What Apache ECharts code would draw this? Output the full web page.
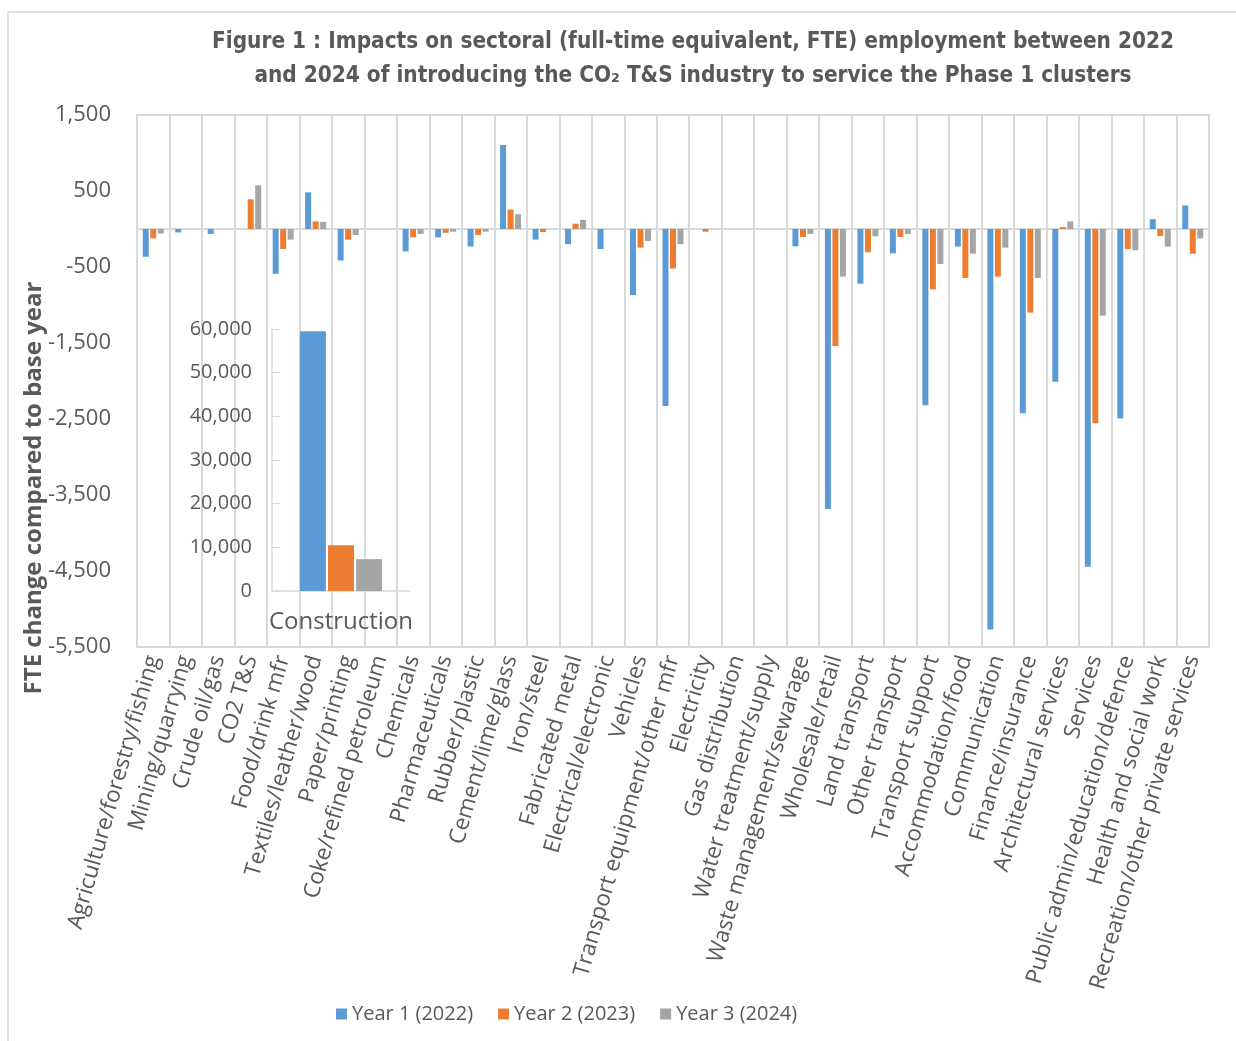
<!DOCTYPE html>
<html>
<head>
<meta charset="utf-8">
<script src="https://cdn.jsdelivr.net/npm/echarts@6/dist/echarts.min.js"></script>
<style>
html,body{margin:0;padding:0;background:#fff;}
#chart{width:1236px;height:1041px;}
</style>
</head>
<body>
<div id="chart"></div>
<script>
const categories = ['Agriculture/forestry/fishing','Mining/quarrying','Crude oil/gas','CO2 T&S','Food/drink mfr','Textiles/leather/wood','Paper/printing','Coke/refined petroleum','Chemicals','Pharmaceuticals','Rubber/plastic','Cement/lime/glass','Iron/steel','Fabricated metal','Electrical/electronic','Vehicles','Transport equipment/other mfr','Electricity','Gas distribution','Water treatment/supply','Waste management/sewarage','Wholesale/retail','Land transport','Other transport','Transport support','Accommodation/food','Communication','Finance/insurance','Architectural services','Services','Public admin/education/defence','Health and social work','Recreation/other private services'];
const year1 = [-365,-45,-65,0,-590,482,-415,0,-295,-110,-230,1105,-140,-200,-263,-870,-2330,0,0,0,-228,-3685,-720,-320,-2320,-232,-5270,-2425,-2010,-4445,-2495,130,310];
const year2 = [-123,0,0,390,-263,100,-140,0,-110,-50,-80,255,-40,70,0,-245,-520,-35,0,0,-105,-1540,-307,-105,-795,-645,-627,-1100,26,-2557,-263,-92,-325];
const year3 = [-60,0,0,575,-140,95,-80,0,-65,-35,-35,195,0,120,0,-158,-200,0,0,0,-65,-627,-96,-65,-460,-325,-245,-645,100,-1140,-280,-232,-123];
const seriesNames = ['Year 1 (2022)','Year 2 (2023)','Year 3 (2024)'];
const insetCategories = ['Construction'];
const constructionValues = [59500, 10500, 7300];
const mainTickLabels = [-5500,-4500,-3500,-2500,-1500,-500,500,1500];

const colors = ['#5B9BD5','#ED7D31','#A5A5A5'];
const txt = '#595959';
const gridLine = '#d9d9d9';
const font = 'Open Sans';

const chart = echarts.init(document.getElementById('chart'));
const mainData = [year1, year2, year3];

const series = [];
mainData.forEach((d, i) => {
  const s = {
    name: seriesNames[i], type: 'bar', xAxisIndex: 0, yAxisIndex: 0,
    data: d, barWidth: 6, barGap: '25%',
    itemStyle: { color: colors[i] }
  };
  if (i === 0) {
    s.markLine = {
      silent: true, symbol: ['none','none'], label: { show: false },
      lineStyle: { color: gridLine, width: 2, type: 'solid' },
      data: [{ yAxis: 0 }], z: 1
    };
  }
  series.push(s);
});
constructionValues.forEach((v, i) => {
  series.push({
    name: seriesNames[i], type: 'bar', xAxisIndex: 1, yAxisIndex: 1,
    data: [v], barWidth: 26, barGap: '8%',
    itemStyle: { color: colors[i] }
  });
});

chart.setOption({
  animation: false,
  color: colors,
  textStyle: { fontFamily: font, color: txt },
  title: {
    text: 'Figure 1 : Impacts on sectoral (full-time equivalent, FTE) employment between 2022\nand 2024 of introducing the CO\u2082 T&S industry to service the Phase 1 clusters',
    left: 688, top: 20, textAlign: 'center',
    textStyle: { fontFamily: 'Liberation Sans Narrow, DejaVu Sans Condensed, sans-serif', fontWeight: 'bold', fontSize: 22.4, color: txt, lineHeight: 34 }
  },
  legend: {
    left: 331, top: 999, icon: 'rect', itemWidth: 11, itemHeight: 11, itemGap: 25,
    data: seriesNames,
    textStyle: { fontFamily: font, fontSize: 20, color: txt }
  },
  graphic: [
    { type: 'rect', shape: { x: 8, y: 12, width: 1240, height: 1040 }, style: { fill: 'none', stroke: gridLine, lineWidth: 1.5 }, silent: true, z: -10 },
    { type: 'text', x: 34, y: 488, rotation: Math.PI / 2,
      style: { text: 'FTE change compared to base year', fontFamily: font, fontWeight: 'bold', fontSize: 24, fill: txt, align: 'center', verticalAlign: 'middle' } }
  ],
  grid: [
    { left: 137, right: 27, top: 115, bottom: 394, show: true, borderColor: gridLine, borderWidth: 2, backgroundColor: 'transparent' },
    { left: 272, right: 826, top: 329, bottom: 450 }
  ],
  xAxis: [
    { type: 'category', gridIndex: 0, data: categories, position: 'bottom',
      axisLine: { show: false, onZero: false }, axisTick: { show: false },
      splitLine: { show: true, lineStyle: { color: gridLine, width: 2 } },
      axisLabel: { interval: 0, rotate: 74, fontSize: 22.5, color: txt, margin: 9, fontFamily: font } },
    { type: 'category', gridIndex: 1, data: insetCategories,
      axisLine: { show: true, lineStyle: { color: gridLine, width: 1.5 } }, axisTick: { show: false },
      axisLabel: { fontSize: 24, color: txt, margin: 19, fontFamily: font } }
  ],
  yAxis: [
    { type: 'value', gridIndex: 0, min: -5500, max: 1500, interval: 500,
      axisLine: { show: false }, axisTick: { show: false }, splitLine: { show: false },
      axisLabel: { fontSize: 22, color: txt, margin: 26, fontFamily: font,
        formatter: v => mainTickLabels.indexOf(v) >= 0 ? v.toLocaleString('en-US') : '' } },
    { type: 'value', gridIndex: 1, min: 0, max: 60000, interval: 10000,
      axisLine: { show: true, lineStyle: { color: gridLine, width: 1.5 } },
      axisTick: { show: true, inside: true, length: 8, lineStyle: { color: gridLine } },
      splitLine: { show: false },
      axisLabel: { fontSize: 20, color: txt, margin: 20, fontFamily: font,
        formatter: v => v.toLocaleString('en-US') } }
  ],
  series: series
});
</script>
</body>
</html>
